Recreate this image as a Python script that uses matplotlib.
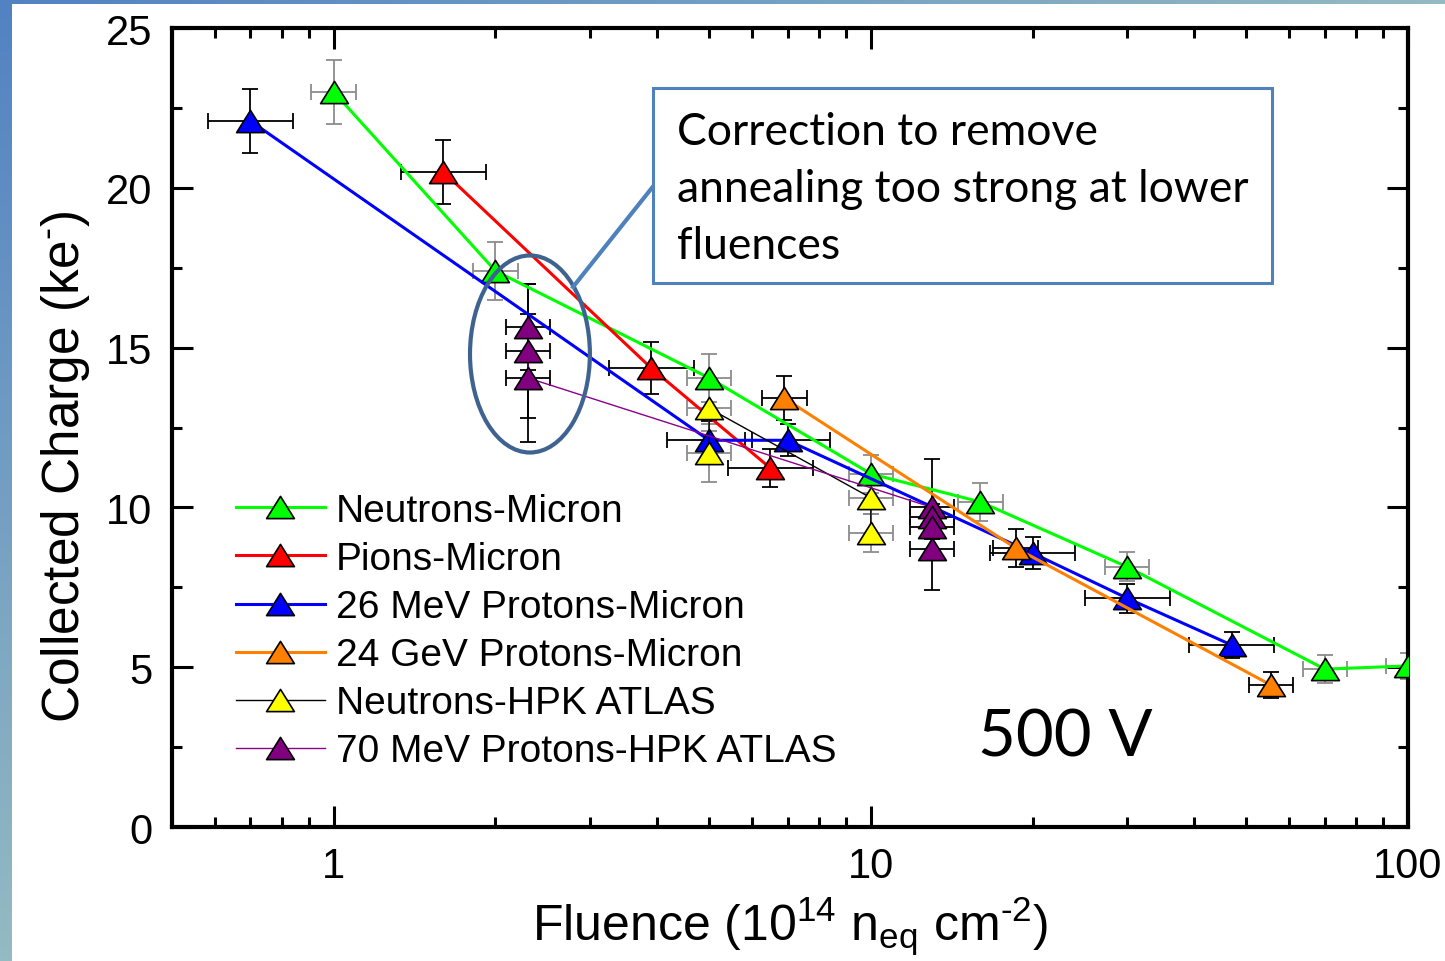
import numpy as np
import matplotlib
matplotlib.use('Agg')
import matplotlib.pyplot as plt
from matplotlib.path import Path
from matplotlib.patches import Ellipse, Rectangle
from matplotlib.ticker import LogLocator, MultipleLocator, FixedLocator, FixedFormatter, NullFormatter

plt.rcParams['font.family'] = ['Liberation Sans', 'DejaVu Sans']
plt.rcParams['mathtext.fontset'] = 'custom'
plt.rcParams['mathtext.rm'] = 'Liberation Sans'
plt.rcParams['mathtext.it'] = 'Liberation Sans'

# ---- data ----
neu_mic_x = [1, 2, 5, 10, 16, 30, 70, 100]
neu_mic_y = [23.0, 17.4, 14.05, 11.05, 10.17, 8.14, 4.94, 5.04]
neu_mic_ye = [1.0, 0.9, 0.75, 0.6, 0.6, 0.45, 0.45, 0.4]

pion_x = [1.6, 3.9, 6.5]
pion_y = [20.5, 14.36, 11.23]
pion_ye = [1.0, 0.8, 0.6]

p26_x = [0.7, 5, 7, 20, 30, 47]
p26_y = [22.09, 12.1, 12.1, 8.57, 7.16, 5.69]
p26_ye = [1.0, 0.6, 0.5, 0.5, 0.45, 0.4]

p24_x = [6.9, 18.6, 55.6]
p24_y = [13.42, 8.73, 4.44]
p24_ye = [0.7, 0.6, 0.4]

neu_hpk_x = [5, 5, 10, 10]
neu_hpk_y = [11.7, 13.1, 10.3, 9.2]
neu_hpk_ye = [0.9, 0.7, 0.5, 0.6]

p70_x = [2.3, 2.3, 2.3, 13, 13, 13, 13]
p70_y = [15.64, 14.9, 14.05, 10.0, 9.7, 9.4, 8.7]
p70_ye = [1.35, 2.1, 2.0, 1.5, 0.4, 0.4, 1.3]

series = [
    ('Neutrons-Micron', neu_mic_x, neu_mic_y, neu_mic_ye, 0.10, '#00FF00', 2.2, '#8C8C8C'),
    ('Pions-Micron', pion_x, pion_y, pion_ye, 0.20, '#FF0000', 2.2, 'black'),
    ('26 MeV Protons-Micron', p26_x, p26_y, p26_ye, 0.20, '#0000FF', 2.2, 'black'),
    ('24 GeV Protons-Micron', p24_x, p24_y, p24_ye, 0.10, '#FF8000', 2.2, 'black'),
    ('Neutrons-HPK ATLAS', neu_hpk_x, neu_hpk_y, neu_hpk_ye, 0.10, 'black', 1.0, '#8C8C8C'),
    ('70 MeV Protons-HPK ATLAS', p70_x, p70_y, p70_ye, 0.10, '#8B008B', 1.0, 'black'),
]
marker_fill = ['#00FF00', '#FF0000', '#0000FF', '#FF8000', '#FFFF00', '#800080']

tri = Path([(0, 0.8), (-1, -0.8), (1, -0.8), (0, 0.8)],
           [Path.MOVETO, Path.LINETO, Path.LINETO, Path.CLOSEPOLY])

fig = plt.figure(figsize=(14.45, 9.62), dpi=100)

# background strips
grad = np.linspace(0, 1, 256)
c0 = np.array([0x52, 0x82, 0xC2]) / 255
c1 = np.array([0x94, 0xBA, 0xC2]) / 255
img_v = (c0[None, :] * (1 - grad[:, None]) + c1[None, :] * grad[:, None])[:, None, :]
sax = fig.add_axes([0, 0, 12 / 1445, 1])
sax.imshow(img_v, aspect='auto', extent=[0, 1, 0, 1])
sax.axis('off')
img_h = (c0[None, :] * (1 - grad[:, None]) + c1[None, :] * grad[:, None])[None, :, :]
tax = fig.add_axes([0, 1 - 5 / 962, 1, 5 / 962])
tax.imshow(img_h, aspect='auto', extent=[0, 1, 0, 1])
tax.axis('off')

ax = fig.add_axes([172 / 1445, 1 - 828 / 962, (1408 - 172) / 1445, (828 - 29) / 962])

for i, (lab, x, y, ye, xf, lc, lw, ec) in enumerate(series):
    x = np.array(x, dtype=float)
    y = np.array(y, dtype=float)
    xerr = np.vstack([x - x / (1 + xf), x * xf])
    ax.errorbar(x, y, yerr=ye, xerr=xerr, fmt='none', ecolor=ec, elinewidth=1.3,
                capsize=6, capthick=1.3, zorder=2)
    ax.plot(x, y, color=lc, lw=lw, marker=tri, ms=20, mfc=marker_fill[i],
            mec='black', mew=1.2, label=lab, zorder=3 + i * 0.1)

ax.set_xscale('log')
ax.set_xlim(0.5, 100)
ax.set_ylim(0, 25)
ax.xaxis.set_major_locator(FixedLocator([1, 10, 100]))
ax.xaxis.set_major_formatter(FixedFormatter(['1', '10', '100']))
ax.xaxis.set_minor_locator(LogLocator(base=10, subs=np.arange(2, 10)))
ax.xaxis.set_minor_formatter(NullFormatter())
ax.yaxis.set_major_locator(MultipleLocator(5))
ax.yaxis.set_minor_locator(MultipleLocator(2.5))

for s in ax.spines.values():
    s.set_linewidth(3)
ax.tick_params(which='both', direction='in', top=True, right=True, width=2.2)
ax.tick_params(which='major', length=15, labelsize=30, pad=14)
ax.tick_params(which='minor', length=7.5)

ax.set_xlabel('Fluence (10$^{14}$ n$_{\\rm eq}$ cm$^{\u20102}$)', fontsize=36, labelpad=5)
ax.set_ylabel('Collected Charge (ke$^{\u2010}$)', fontsize=37)
ax.yaxis.set_label_coords(-0.065, 0.452)

leg = ax.legend(loc='upper left', bbox_to_anchor=(0.052, 0.418), frameon=False,
                fontsize=28, handlelength=2.27, handletextpad=0.3,
                labelspacing=0.31, borderpad=0, borderaxespad=0)

# annotation: ellipse, connector and text box
ax.add_patch(Ellipse((0.2896, 0.592), 0.097, 0.2466, transform=ax.transAxes,
                     fill=False, ec='#3F6391', lw=3, zorder=6))
ax.plot([(573 - 172) / 1236, (655 - 172) / 1236], [(828 - 288) / 799, (828 - 185) / 799],
        transform=ax.transAxes, color='#4F81BD', lw=3, zorder=6)
ax.add_patch(Rectangle((0.389, 0.681), 0.501, 0.244, transform=ax.transAxes,
                       fc='white', ec='#4F81BD', lw=2.2, zorder=7))
ax.text(0.4086, 0.896, 'Correction to remove\nannealing too strong at lower\nfluences',
        transform=ax.transAxes, family='Lato', fontsize=32, va='top', ha='left',
        linespacing=1.49, zorder=8)
ax.text(0.652, 0.0889, '500 V', transform=ax.transAxes, family='Lato', fontsize=47,
        va='baseline', ha='left', zorder=8)

fig.savefig('out.png', dpi=100)
